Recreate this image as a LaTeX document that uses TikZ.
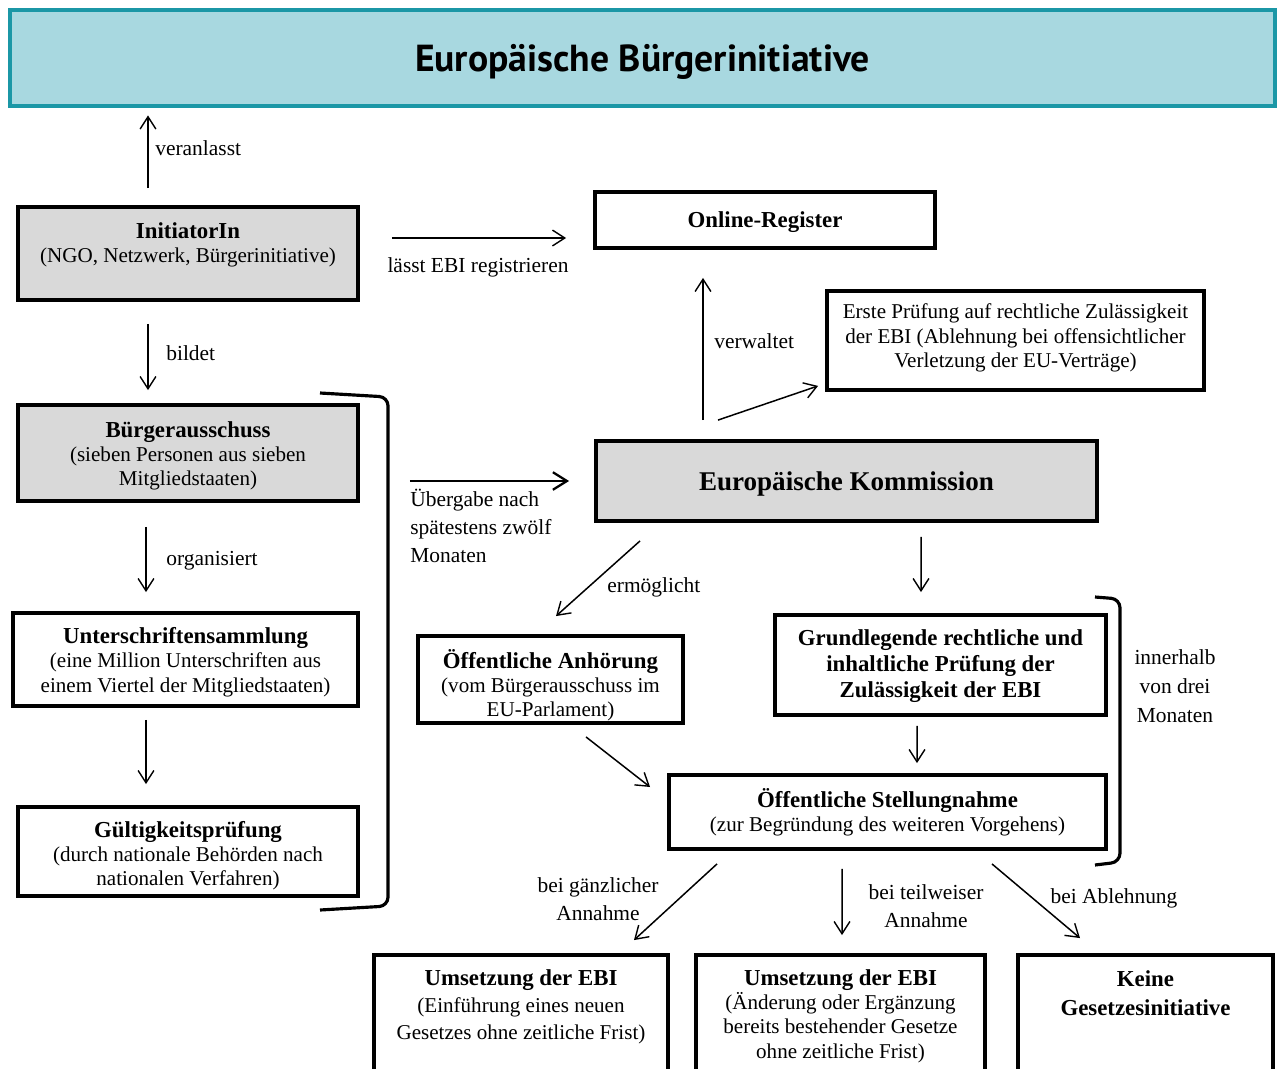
\documentclass[tikz,border=0pt]{standalone}
\usepackage{fontspec}
\usepackage{graphicx}
\setmainfont{Liberation Serif}
\newfontfamily\titlefont{PT Sans}
\usetikzlibrary{arrows.meta,calc}
\definecolor{titlefill}{HTML}{A8D8E0}
\definecolor{titleline}{HTML}{1B97A6}
\definecolor{boxgray}{HTML}{D9D9D9}
\newcommand\hd[1]{{\fontsize{13}{15}\selectfont\bfseries #1}}
\begin{document}
\begin{tikzpicture}[x=0.02cm,y=-0.02cm,
 sz/.style 2 args={minimum width=#1*0.02cm, minimum height=#2*0.02cm},
 box/.style={draw=black, line width=2.2pt, fill=white, inner sep=0pt, align=center, font=\fontsize{12}{13.8}\selectfont},
 graybox/.style={box, fill=boxgray},
 txt/.style={inner sep=0pt, align=center, font=\fontsize{12}{13.8}\selectfont},
 arr/.style={-{Straight Barb[length=7pt,width=9pt,line width=0.8pt]}, line width=0.85pt},
 lbl/.style={font=\fontsize{12.2}{16}\selectfont, inner sep=0pt, align=center},
 brk/.style={line width=1.8pt, rounded corners=5pt}
]
\useasboundingbox (0,0) rectangle (1279,1069);
\clip (0,0) rectangle (1279,1069);
\fill[white] (0,0) rectangle (1279,1069);

% title
\node[draw=titleline, line width=2.8pt, fill=titlefill, sz={1265}{96}, inner sep=0pt] (title) at (642.5,58) {};
\node[inner sep=0pt] (titleT) at (642.5,62) {\resizebox{9.1cm}{!}{\titlefont\bfseries Europäische Bürgerinitiative}};

% left column
\node[graybox, sz={340}{93}] (init) at (188,253.5) {};
\node[txt] (initT) at (188,245) {\hd{InitiatorIn}\\(NGO, Netzwerk, Bürgerinitiative)};
\node[graybox, sz={340}{96}] (buerger) at (188,453) {};
\node[txt] (buergerT) at (188,456) {\hd{Bürgerausschuss}\\(sieben Personen aus sieben\\Mitgliedstaaten)};
\node[box, sz={345}{93}] (unter) at (185.5,659.5) {};
\node[txt] (unterT) at (185.5,662) {\hd{Unterschriftensammlung}\\(eine Million Unterschriften aus\\einem Viertel der Mitgliedstaaten)};
\node[box, sz={340}{89}] (gueltig) at (188,851.5) {};
\node[txt] (gueltigT) at (188,855.5) {\hd{Gültigkeitsprüfung}\\(durch nationale Behörden nach\\nationalen Verfahren)};

% right part
\node[box, sz={340}{56}] (online) at (765,220) {};
\node[txt] (onlineT) at (765,222) {\hd{Online-Register}};
\node[box, sz={377}{99}] (erste) at (1015.5,340.5) {};
\node[txt] (ersteT) at (1015.5,338) {Erste Prüfung auf rechtliche Zulässigkeit\\der EBI (Ablehnung bei offensichtlicher\\Verletzung der EU-Verträge)};
\node[graybox, sz={501}{80}] (komm) at (846.5,481) {};
\node[txt] (kommT) at (846.5,484) {{\fontsize{15.4}{18}\selectfont\bfseries Europäische Kommission}};
\node[box, sz={265}{87}] (anh) at (550.5,679.5) {};
\node[txt] (anhT) at (550.5,685) {\hd{Öffentliche Anhörung}\\(vom Bürgerausschuss im\\EU-Parlament)};
\node[box, sz={331}{100}] (grund) at (940.5,665) {};
\node[txt, font=\fontsize{12}{14.7}\selectfont] (grundT) at (940.5,666) {\hd{Grundlegende rechtliche und}\\\hd{inhaltliche Prüfung der}\\\hd{Zulässigkeit der EBI}};
\node[box, sz={437}{74}] (stell) at (887.5,812) {};
\node[txt] (stellT) at (887.5,812.5) {\hd{Öffentliche Stellungnahme}\\(zur Begründung des weiteren Vorgehens)};

% bottom boxes
\node[box, sz={294}{135}] (ums1) at (521,1022.5) {};
\node[txt, font=\fontsize{12}{15.3}\selectfont] (ums1T) at (521,1007) {\hd{Umsetzung der EBI}\\(Einführung eines neuen\\Gesetzes ohne zeitliche Frist)};
\node[box, sz={289}{135}] (ums2) at (840.5,1022.5) {};
\node[txt] (ums2T) at (840.5,1016) {\hd{Umsetzung der EBI}\\(Änderung oder Ergänzung\\bereits bestehender Gesetze\\ohne zeitliche Frist)};
\node[box, sz={255}{135}] (keine) at (1145.5,1022.5) {};
\node[txt, font=\fontsize{12}{16.4}\selectfont] (keineT) at (1145.5,993) {\hd{Keine}\\\hd{Gesetzesinitiative}};

% connectors
\draw[arr] ($(init.north)+(-40,-17)$) -- ($(title.south)+(-494.5,7)$);
\node[lbl, anchor=west] (lVer) at (155,148) {veranlasst};
\draw[arr] ($(init.east)+(32,-15.5)$) -- ($(online.west)+(-27,18)$);
\node[lbl] (lReg) at (478,267) {lässt EBI registrieren};
\draw[arr] ($(init.south)+(-40,22)$) -- ($(buerger.north)+(-40,-13)$);
\node[lbl, anchor=west] (lBil) at (166,353) {bildet};
\draw[-{Straight Barb[length=8pt,width=10pt,line width=1.3pt]}, line width=1.6pt]
  ($(buerger.east)+(50,28)$) -- ($(komm.west)+(-25,0)$);
\node[lbl, align=left, anchor=north west] (lUeb) at (410,489) {Übergabe nach\\spätestens zwölf\\Monaten};
\draw[arr] ($(buerger.south)+(-42,24)$) -- ($(unter.north)+(-39.5,-19)$);
\node[lbl, anchor=west] (lOrg) at (166,561) {organisiert};
\draw[arr] ($(unter.south)+(-39.5,12)$) -- ($(gueltig.north)+(-42,-21)$);

\draw[arr] ($(komm.north)+(-143.5,-19)$) -- ($(online.south)+(-62,28)$);
\node[lbl, anchor=west] (lVerw) at (714,341) {verwaltet};
\draw[arr] ($(komm.north)+(-128.5,-19)$) -- ($(erste.south west)+(-7,-6)$);
\draw[arr] ($(komm.south)+(-206.5,18)$) -- ($(anh.north)+(5.5,-18)$);
\node[lbl, anchor=west] (lErm) at (607,587) {ermöglicht};
\draw[arr] ($(komm.south)+(74.5,14)$) -- ($(grund.north)+(-19.5,-21)$);
\draw[arr] ($(grund.south)+(-23.5,9)$) -- ($(stell.north)+(29.5,-10)$);
\draw[arr] ($(anh.south)+(35.5,12)$) -- ($(stell.west)+(-17,-25)$);

\draw[arr] ($(stell.south)+(-170.5,13)$) -- ($(ums1.north)+(113,-13)$);
\node[lbl] (lGan) at (598,899) {bei gänzlicher\\Annahme};
\draw[arr] ($(stell.south)+(-45.5,18)$) -- ($(ums2.north)+(1.5,-18)$);
\node[lbl] (lTei) at (926,906.5) {bei teilweiser\\Annahme};
\draw[arr] ($(stell.south)+(104.5,13)$) -- ($(keine.north)+(-65.5,-15)$);
\node[lbl] (lAbl) at (1114,898) {bei Ablehnung};

% brackets
\draw[brk] (320,393) -- (388,397) -- (388,906) -- (320,910);
\draw[brk] (1095,597) -- (1120,599) -- (1120,862) -- (1095,865);
\node[lbl, font=\fontsize{12.2}{16.4}\selectfont] (lInn) at (1175,686) {innerhalb\\von drei\\Monaten};
\end{tikzpicture}
\end{document}
